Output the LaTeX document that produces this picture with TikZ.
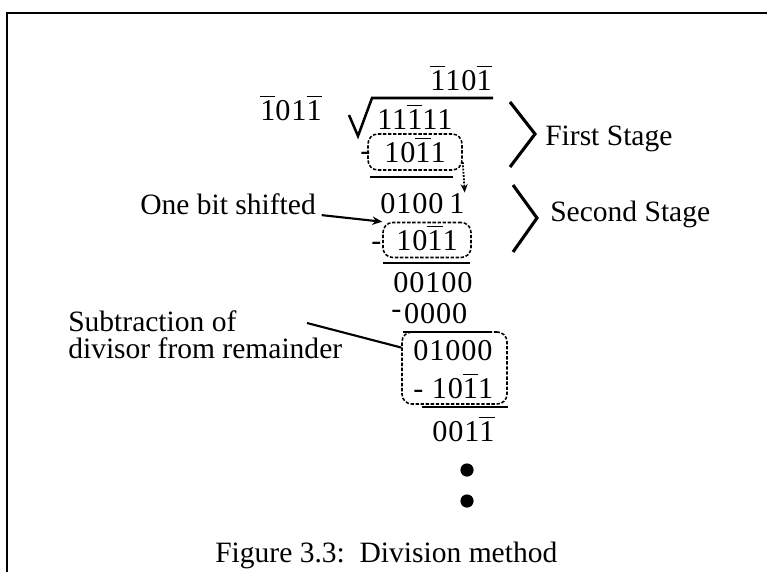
\documentclass[tikz,border=0pt]{standalone}
\usepackage{fontspec}
\setmainfont{Liberation Serif}
\newfontfamily\digfont{Liberation Serif}[LetterSpace=3]
\usepackage{tikz}
\usetikzlibrary{arrows.meta,positioning}
\newcommand{\nb}[1]{\vbox{\hrule height 1pt\kern 2pt\hbox{#1}}}

\begin{document}
\begin{tikzpicture}[
  x=0.025cm, y=-0.025cm,
  dig/.style={font={\digfont\fontsize{21.5}{25}\selectfont}, inner sep=0pt, anchor=west, text height=14.5pt, text depth=0pt},
  lbl/.style={font={\fontsize{21}{19.5}\selectfont}, inner sep=0pt, anchor=west, text height=14pt, text depth=0pt},
  dbox/.style={draw, line width=1.1pt, dash pattern=on 2.4pt off 1.2pt, rounded corners=7pt, inner sep=0pt},
  bar/.style={line width=1.8pt},
  brk/.style={line width=2.2pt, line join=miter},
  pointer/.style={line width=1.5pt, -{Stealth[length=7pt,width=6pt]}},
  bring/.style={line width=1.3pt, densely dotted, -{Stealth[length=6pt,width=5pt]}},
  dot/.style={circle, fill, inner sep=0pt, minimum size=0.33cm}
]
\useasboundingbox (0,0) rectangle (767,572);
\draw[line width=2pt] (7,572) -- (7,13) -- (767,13);

\node[dig] (q) at (430,80) {\nb{1}10\nb{1}};
\node[dig] (dv) at (260,110) {\nb{1}01\nb{1}};
\node[dig] (dd) at (377,119) {11\nb{1}11};
\draw[bar, line join=miter] (349,115) -- (358,136) -- (372,98) -- (493,98);

\node[dig] (m1) at (360,150) {-};
\node[dig, dbox, anchor=center, minimum width=2.35cm, minimum height=0.9cm] (b1) at (415,152) {10\nb{1}1};
\draw[bar] (370,177) -- (453,177);
\node[dig] (r2) at (380,203) {0100};
\node[dig] (bd) at (449,203) {1};
\draw[bring] (b1.-12) -- (bd.north east);

\node[lbl] (lb1) at (140,205) {One bit shifted};
\node[dig] (m2) at (371,240) {-};
\node[dig, dbox, anchor=center, minimum width=2.2cm, minimum height=0.875cm] (b2) at (427,240) {10\nb{1}1};
\draw[pointer] ([xshift=4pt]lb1.south east) -- (b2.north west);
\draw[bar] (383,263) -- (470,263);

\node[dig] (r3) at (393,282) {00100};
\node[dig] (r4) at (391,313) {\raisebox{3pt}{-}\hspace{2pt}0000};
\draw[bar] (403,332) -- (490,332);
\node[dbox, minimum width=2.625cm, minimum height=1.8cm] (b3) at (454.5,368) {};
\node[dig] (r5) at (413,350) {01000};
\node[dig] (r6) at (413,388) {-\hspace{6pt}10\nb{1}1};
\draw[bar] (422,407) -- (508,407);
\node[dig] (r7) at (432,431) {001\nb{1}};
\node[dot] (e1) at (467,470) {};
\node[dot] (e2) at (467,501) {};

\node[lbl, align=left, text height=, text depth=, anchor=north west] (lb2) at (68,310) {Subtraction of\\divisor from remainder};
\coordinate (c1) at (307,323);
\draw[line width=1.5pt] (c1) -- (b3.159);

\draw[brk] (510,102) -- (535,134) -- (510,167);
\draw[brk] (513,185) -- (537,218) -- (513,252);
\node[lbl] (st1) at (545,136) {First Stage};
\node[lbl] (st2) at (550,212) {Second Stage};
\node[lbl] (cap) at (215,553) {Figure 3.3:\ \ Division method};
\end{tikzpicture}
\end{document}
